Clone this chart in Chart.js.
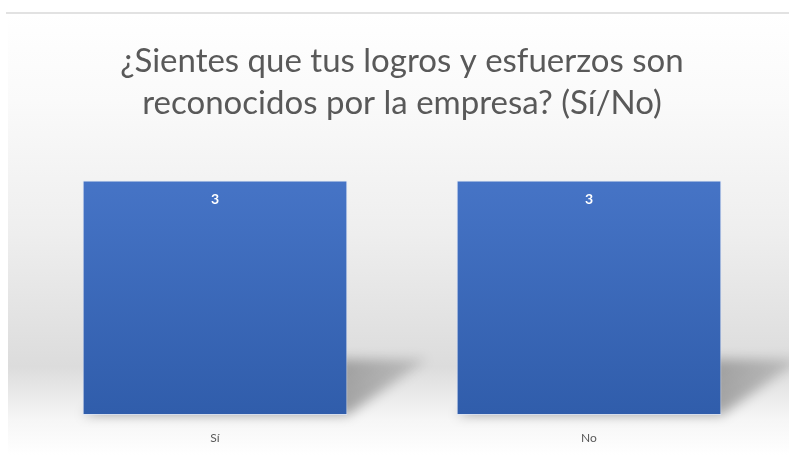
<!DOCTYPE html>
<html>
<head>
<meta charset="utf-8">
<script src="https://cdn.jsdelivr.net/npm/chart.js@4/dist/chart.umd.min.js"></script>
<style>
html,body{margin:0;padding:0;background:#fff;}
#wrap{position:relative;width:789px;height:455px;}
</style>
</head>
<body>
<div id="wrap"><canvas id="c" width="789" height="455"></canvas></div>
<script>
const categories = ["Sí", "No"];
const values = [3, 3];
const titleLines = ["¿Sientes que tus logros y esfuerzos son", "reconocidos por la empresa? (Sí/No)"];
const yMin = 0;
const yMax = 3;

const framePlugin = {
  id: 'frame',
  beforeDraw(chart) {
    const ctx = chart.ctx;
    const W = chart.width, H = chart.height;
    const top = 13, left = 8;
    ctx.save();
    ctx.fillStyle = '#ffffff';
    ctx.fillRect(0, 0, W, H);
    const g = ctx.createLinearGradient(0, top, 0, H);
    g.addColorStop(0, '#ffffff');
    g.addColorStop(0.2, '#fafafa');
    g.addColorStop(0.5, '#eeeeee');
    g.addColorStop(0.8, '#dcdcdc');
    g.addColorStop(0.92, '#f6f6f6');
    g.addColorStop(1, '#ffffff');
    ctx.fillStyle = g;
    ctx.fillRect(left, top, W - left, H - top);
    ctx.strokeStyle = '#d9d9d9';
    ctx.lineWidth = 1.5;
    ctx.beginPath();
    ctx.moveTo(left - 2, top);
    ctx.lineTo(W, top);
    ctx.stroke();
    ctx.restore();
  },
  beforeDatasetsDraw(chart) {
    const ctx = chart.ctx;
    const meta = chart.getDatasetMeta(0);
    ctx.save();
    ctx.filter = 'blur(6px)';
    meta.data.forEach(bar => {
      const p = bar.getProps(['x', 'y', 'base', 'width'], true);
      const l = p.x - p.width / 2, r = p.x + p.width / 2, b = p.base;
      const dx = 80, dy = 56;
      const g = ctx.createLinearGradient(r, b, r + dx, b - dy);
      g.addColorStop(0, 'rgba(0,0,0,0.32)');
      g.addColorStop(1, 'rgba(0,0,0,0.12)');
      ctx.fillStyle = g;
      ctx.beginPath();
      ctx.moveTo(l, b);
      ctx.lineTo(r, b);
      ctx.lineTo(r + dx, b - dy);
      ctx.lineTo(l + dx, b - dy);
      ctx.closePath();
      ctx.fill();
    });
    ctx.restore();
  },
  afterDatasetsDraw(chart) {
    const ctx = chart.ctx;
    const meta = chart.getDatasetMeta(0);
    ctx.save();
    ctx.fillStyle = '#ffffff';
    ctx.font = 'bold 14px Lato, "Open Sans", sans-serif';
    ctx.textAlign = 'center';
    ctx.textBaseline = 'middle';
    meta.data.forEach((bar, i) => {
      const p = bar.getProps(['x', 'y'], true);
      ctx.fillText(String(values[i]), p.x, p.y + 19);
    });
    ctx.restore();
  }
};

const ctx = document.getElementById('c').getContext('2d');
new Chart(ctx, {
  type: 'bar',
  data: {
    labels: categories,
    datasets: [{
      data: values,
      backgroundColor: (c) => {
        const ch = c.chart;
        const a = ch.chartArea;
        if (!a) return '#4472c4';
        const g = ch.ctx.createLinearGradient(0, a.top, 0, a.bottom);
        g.addColorStop(0, '#4674c6');
        g.addColorStop(1, '#305dab');
        return g;
      },
      borderColor: 'rgba(220,230,250,0.7)',
      borderWidth: 1,
      borderSkipped: false,
      barPercentage: 0.708,
      categoryPercentage: 1.0
    }]
  },
  options: {
    responsive: false,
    animation: false,
    devicePixelRatio: 1,
    layout: { padding: { left: 28, right: 13, top: 0, bottom: 0 } },
    plugins: {
      legend: { display: false },
      tooltip: { enabled: false },
      title: {
        display: true,
        text: titleLines,
        color: '#595959',
        font: { family: 'Lato, "Open Sans", sans-serif', size: 33, weight: 'normal', lineHeight: 1.25 },
        padding: { top: 41, bottom: 57 }
      }
    },
    scales: {
      x: {
        grid: { display: false, drawTicks: false },
        border: { display: false },
        ticks: { color: '#595959', font: { family: 'Lato, "Open Sans", sans-serif', size: 12 }, padding: 16 },
        afterFit(scale) { scale.height = 40; }
      },
      y: {
        display: false,
        min: yMin,
        max: yMax
      }
    }
  },
  plugins: [framePlugin]
});
</script>
</body>
</html>
